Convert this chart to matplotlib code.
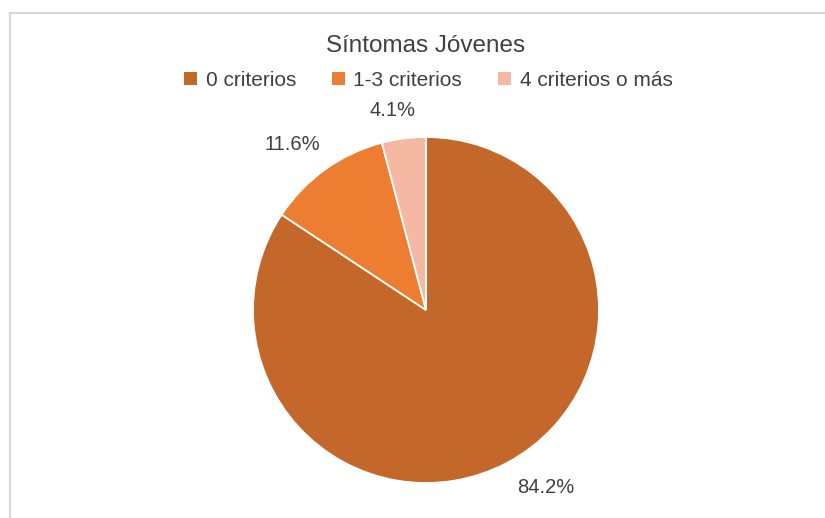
import numpy as np
import matplotlib.pyplot as plt
from matplotlib.patches import Patch

categorias = ['0 criterios', '1-3 criterios', '4 criterios o más']
porcentajes = [84.2, 11.6, 4.1]
colores = ['#C4672A', '#ED7D31', '#F4B8A3']
titulo = 'Síntomas Jóvenes'

plt.rcParams['font.family'] = ['Liberation Sans', 'DejaVu Sans']
gris = '#404040'

fig = plt.figure(figsize=(8.25, 5.18), dpi=100)
ax = fig.add_axes([0, 0, 1, 1])

cx, cy, r = 426, 208, 173
wedges, texts, autotexts = ax.pie(
    porcentajes, colors=colores, startangle=90, counterclock=False,
    center=(cx, cy), radius=r,
    autopct=lambda p: '', pctdistance=1.22,
    wedgeprops=dict(edgecolor='white', linewidth=1.3), frame=True)
ax.set_xlim(0, 825)
ax.set_ylim(0, 518)
ax.set_aspect('equal')
ax.axis('off')

# chart frame (only top and left visible in the crop)
ax.plot([10, 825], [505, 505], color='#d0d0d0', lw=1.2)
ax.plot([10, 10], [505, 0], color='#d0d0d0', lw=1.2)

# "best fit" label placement like Excel: angle (deg) and distance (x radius)
lab_ang = [-56, 129, 99.5]
lab_dist = [1.24, 1.23, 1.17]
for t, v, a, d in zip(autotexts, porcentajes, lab_ang, lab_dist):
    t.set_text(f'{v:.1f}%')
    t.set_fontsize(14.5)
    t.set_color(gris)
    t.set_position((cx + d * r * np.cos(np.radians(a)),
                    cy + d * r * np.sin(np.radians(a))))

ax.text(426, 472, titulo, ha='center', va='center', fontsize=17.5, color=gris)

handles = [Patch(facecolor=c, edgecolor='none') for c in colores]
fig.legend(handles, categorias, loc='center', bbox_to_anchor=(0.519, 0.845),
           ncol=3, frameon=False, fontsize=15, labelcolor=gris,
           handlelength=0.65, handleheight=0.65, handletextpad=0.4,
           columnspacing=1.7)

fig.savefig('out.png', dpi=100)
